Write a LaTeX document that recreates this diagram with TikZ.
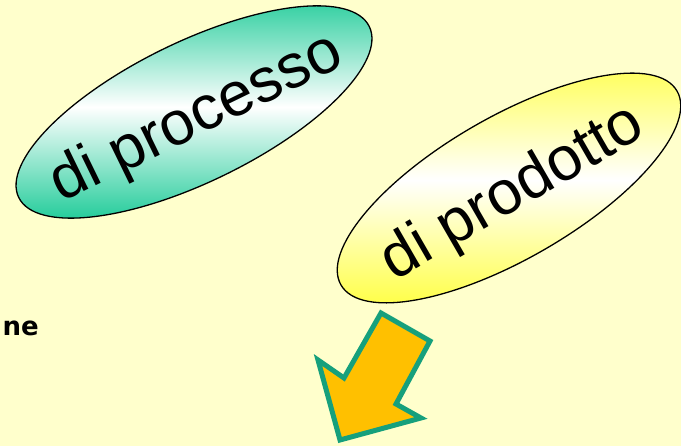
\documentclass[tikz,border=0pt]{standalone}
\usepackage{fontspec}
\setmainfont{Liberation Sans}
\newfontfamily\vfont{DejaVu Sans}
\usetikzlibrary{shapes.geometric}
\definecolor{bg}{HTML}{FFFFCC}
\definecolor{teal1}{HTML}{1ECB98}
\definecolor{yel1}{HTML}{FFFF4A}
\definecolor{arrfill}{HTML}{FFC000}
\definecolor{arredge}{HTML}{16A07C}
\tikzset{
  oval/.style={ellipse, draw=black, line width=1.3pt, inner sep=0pt, outer sep=0pt},
  ovaltext/.style={inner sep=0pt, font=\fontsize{62}{62}\selectfont},
}
\begin{document}
\begin{tikzpicture}[x=1pt,y=1pt]
\fill[bg] (0,0) rectangle (681,446);
\useasboundingbox (0,0) rectangle (681,446);
\clip (0,0) rectangle (681,446);
\node[oval, rotate=26, minimum width=390pt, minimum height=140pt, top color=teal1, bottom color=teal1, middle color=white] (proc) at (194,334) {};
\node[ovaltext, rotate=26] (proct) at (197,327) {di processo};
\node[oval, rotate=30, minimum width=388pt, minimum height=142pt, top color=yel1, bottom color=yel1, middle color=white] (prod) at (509,258) {};
\node[ovaltext, rotate=30] (prodt) at (513,252) {di prodotto};
\node[anchor=base east, font=\vfont\bfseries\fontsize{26}{26}\selectfont, inner sep=0pt] (ne) at (39,110) {ne};
\coordinate (a1) at (381,133);
\coordinate (a2) at (430,105);
\coordinate (a3) at (396,42);
\coordinate (a4) at (421,28);
\coordinate (a5) at (340,6);
\coordinate (a6) at (318,86);
\coordinate (a7) at (344,68);
\draw[fill=arrfill, draw=arredge, line width=5pt, line join=miter] (a1) -- (a2) -- (a3) -- (a4) -- (a5) -- (a6) -- (a7) -- cycle;
\end{tikzpicture}
\end{document}
